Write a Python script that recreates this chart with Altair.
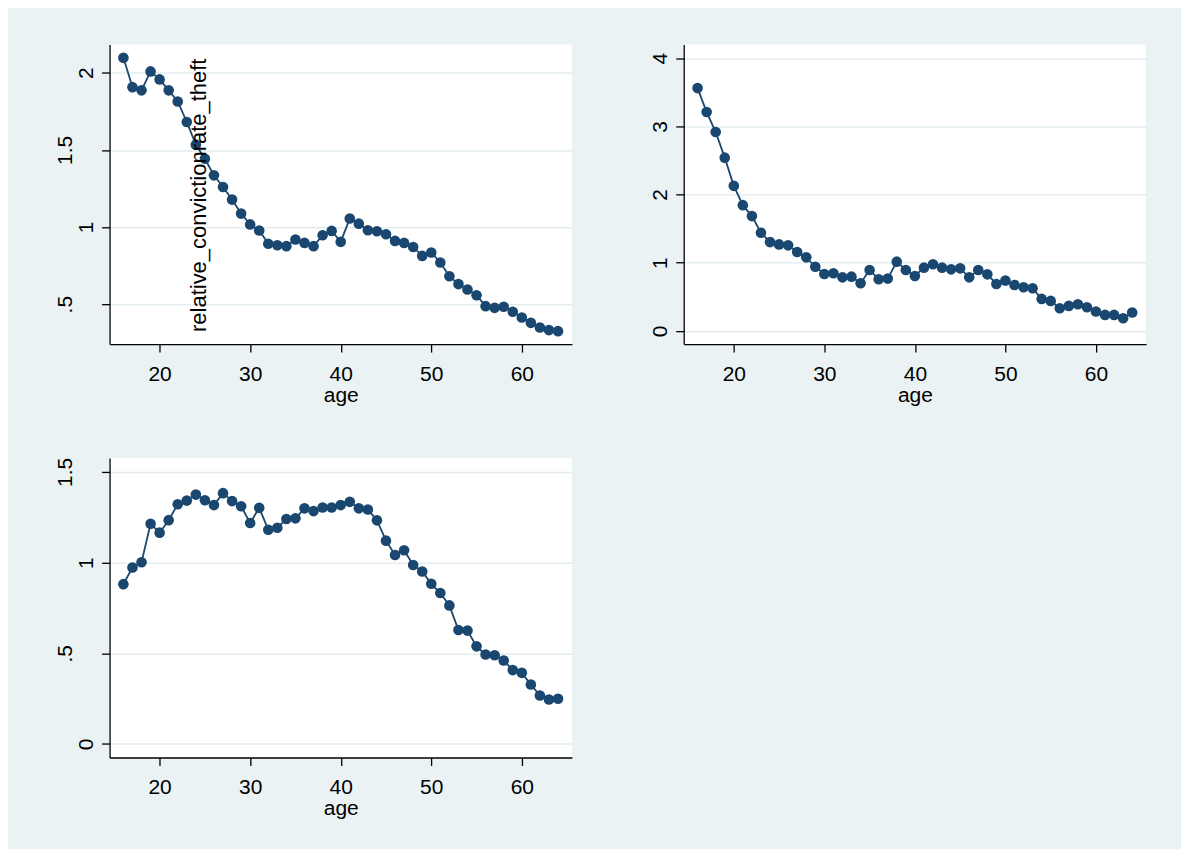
import altair as alt
import pandas as pd

ages = list(range(16, 65))

theft = [2.097, 1.907, 1.886, 2.009, 1.957, 1.886, 1.814, 1.681, 1.534, 1.443,
         1.335, 1.260, 1.178, 1.087, 1.017, 0.978, 0.892, 0.882, 0.876, 0.919,
         0.897, 0.876, 0.947, 0.975, 0.904, 1.055, 1.022, 0.979, 0.973, 0.953,
         0.910, 0.897, 0.871, 0.813, 0.835, 0.770, 0.681, 0.630, 0.595, 0.558,
         0.487, 0.476, 0.483, 0.451, 0.414, 0.379, 0.349, 0.332, 0.325]

series2 = [3.561, 3.210, 2.917, 2.541, 2.127, 1.844, 1.683, 1.439, 1.302, 1.268,
           1.254, 1.156, 1.078, 0.941, 0.834, 0.844, 0.785, 0.795, 0.698, 0.893,
           0.756, 0.766, 1.015, 0.893, 0.805, 0.927, 0.976, 0.927, 0.902, 0.917,
           0.785, 0.893, 0.829, 0.688, 0.737, 0.673, 0.639, 0.624, 0.468, 0.439,
           0.332, 0.366, 0.390, 0.346, 0.283, 0.234, 0.234, 0.185, 0.268]

series3 = [0.881, 0.973, 1.002, 1.214, 1.165, 1.234, 1.322, 1.342, 1.375, 1.344,
           1.317, 1.383, 1.339, 1.311, 1.218, 1.302, 1.181, 1.192, 1.240, 1.244,
           1.299, 1.284, 1.304, 1.304, 1.317, 1.335, 1.299, 1.293, 1.233, 1.121,
           1.042, 1.068, 0.987, 0.951, 0.883, 0.832, 0.764, 0.628, 0.625, 0.538,
           0.493, 0.489, 0.460, 0.407, 0.392, 0.328, 0.267, 0.245, 0.249]

x_ticks = [20, 30, 40, 50, 60]
y_ticks1 = [0.5, 1, 1.5, 2]
y_ticks2 = [0, 1, 2, 3, 4]
y_ticks3 = [0, 0.5, 1, 1.5]

x_domain = [14.47, 65.53]
y_domain1 = [0.241, 2.183]
y_domain2 = [-0.195, 4.2]
y_domain3 = [-0.075, 1.577]

ytitle_text = "relative_convictionrate_theft"

NAVY = "#1A476F"
BG = "#EAF2F3"
FONT = "Liberation Sans"

label_expr = "datum.value > 0 && datum.value < 1 ? substring(datum.label, 1) : datum.label"
baseline_cond = {"condition": {"test": "datum.value % 1 != 0", "value": "bottom"}, "value": "top"}


def panel(values, ydom, yticks, note=False):
    df = pd.DataFrame({"age": ages, "value": values})
    x = alt.X("age:Q", title="age",
              scale=alt.Scale(domain=x_domain, nice=False, zero=False),
              axis=alt.Axis(values=x_ticks, format="d"))
    y = alt.Y("value:Q", title=None,
              scale=alt.Scale(domain=ydom, nice=False, zero=False),
              axis=alt.Axis(values=yticks, format=".1~f", labelExpr=label_expr,
                            labelBaseline=baseline_cond))
    base = alt.Chart(df)
    line = base.mark_line(color=NAVY, strokeWidth=1.8).encode(x=x, y=y)
    pts = base.mark_circle(color=NAVY, size=113, opacity=1).encode(x=x, y=y)
    layers = [line, pts]
    if note:
        txt = alt.Chart(pd.DataFrame({"t": [ytitle_text], "ax": [25.1], "ay": [0.32]})).mark_text(
            angle=270, align="left", baseline="alphabetic", font=FONT, fontSize=22, color="black"
        ).encode(
            x=alt.X("ax:Q", scale=alt.Scale(domain=x_domain, nice=False, zero=False)),
            y=alt.Y("ay:Q", scale=alt.Scale(domain=ydom, nice=False, zero=False)),
            text="t:N",
        )
        layers.append(txt)
    return alt.layer(*layers).properties(width=463, height=300)


p1 = panel(theft, y_domain1, y_ticks1, note=True)
p2 = panel(series2, y_domain2, y_ticks2)
p3 = panel(series3, y_domain3, y_ticks3)

chart = alt.vconcat(
    alt.hconcat(p1, p2, spacing=77),
    p3,
    spacing=52,
).properties(
    background=BG,
    padding={"left": 45.7, "top": 36, "right": 35, "bottom": 30},
).configure_view(
    fill="white", stroke=None
).configure_axis(
    domainColor="black", domainWidth=1.3,
    tickColor="black", tickWidth=1.3, tickSize=8,
    labelFont=FONT, labelFontSize=21, labelColor="black",
    titleFont=FONT, titleFontSize=21, titleFontWeight="normal", titleColor="black",
    gridColor="#E3EDF0", gridWidth=1.5,
).configure_axisX(
    grid=False, labelPadding=11, titlePadding=0, labelAngle=0,
).configure_axisY(
    grid=True, labelAngle=270, labelAlign="center", labelPadding=26,
)

chart.save("out.html", embed_options={"renderer": "svg", "actions": False})
